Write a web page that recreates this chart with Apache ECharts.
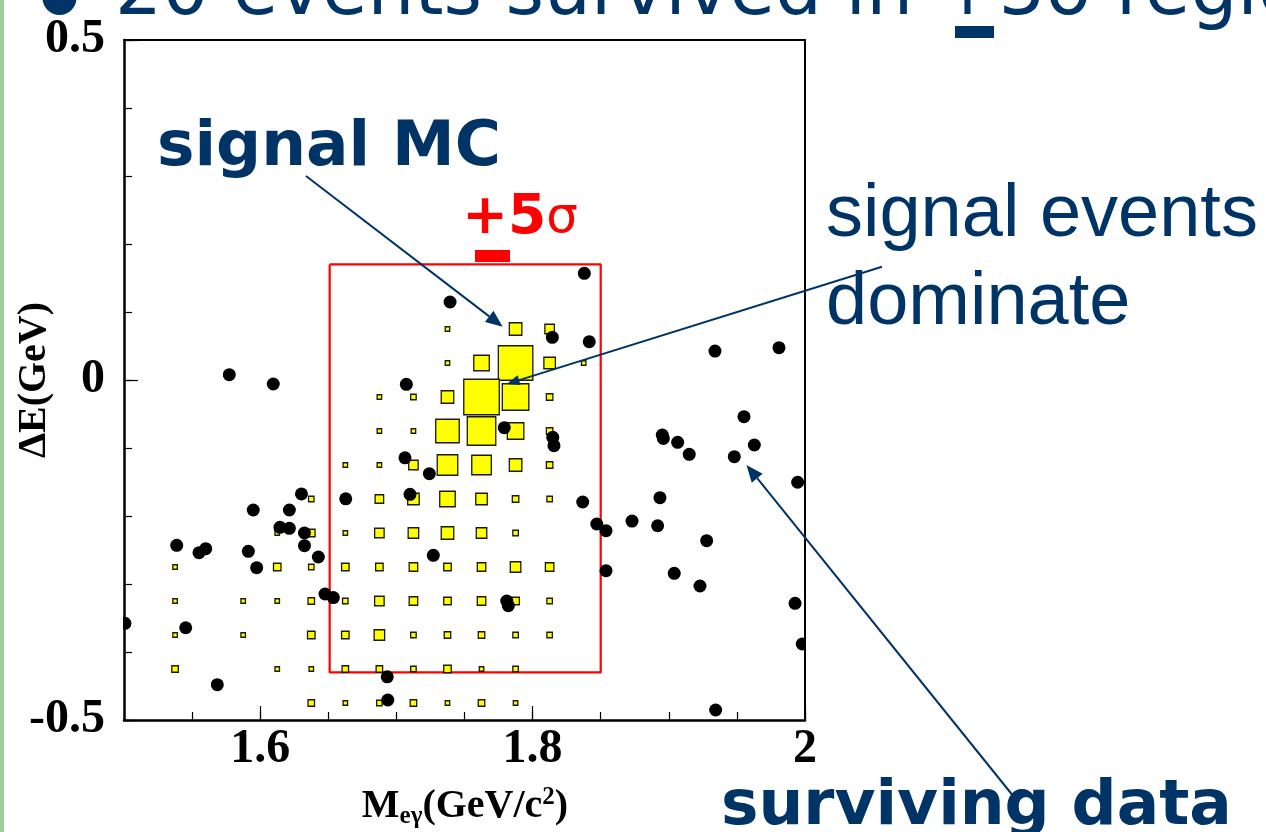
<!DOCTYPE html>
<html>
<head>
<meta charset="utf-8">
<script src="https://cdn.jsdelivr.net/npm/echarts@6/dist/echarts.min.js"></script>
<style>
  html, body { margin: 0; padding: 0; background: #ffffff; }
  #chart { width: 1266px; height: 832px; }
</style>
</head>
<body>
<div id="chart"></div>
<script>
// ---- signal MC: box histogram, bin centres and contents ----
const mcMass = [1.5375, 1.5625, 1.5875, 1.6125, 1.6375, 1.6625, 1.6875, 1.7125, 1.7375, 1.7625, 1.7875, 1.8125, 1.8375];
const mcDeltaE = [0.075, 0.025, -0.025, -0.075, -0.125, -0.175, -0.225, -0.275, -0.325, -0.375, -0.425, -0.475];
// one row per mcDeltaE bin, one column per mcMass bin (0 = empty bin)
const mcContent = [
  [ 0, 0, 0, 0, 0, 0, 0, 0,  9,   0, 33, 24, 0],
  [ 0, 0, 0, 0, 0, 0, 0, 0,  9,  42, 99, 30, 9],
  [ 0, 0, 0, 0, 0, 0, 9, 12, 33, 102, 75, 15, 0],
  [ 0, 0, 0, 0, 0, 0, 9,  9, 66,  81, 45, 15, 0],
  [ 0, 0, 0, 0, 0, 9, 9, 24, 57,  54, 33, 15, 0],
  [ 0, 0, 0, 0, 12, 0, 21, 30, 42, 30, 15, 12, 0],
  [ 0, 0, 0, 9, 18, 9, 24, 27, 33, 27, 12,  0, 0],
  [ 9, 0, 0, 18, 12, 18, 18, 21, 18, 21, 27, 21, 0],
  [ 9, 0, 9, 9, 15, 12, 24, 21, 18, 21, 18, 12, 0],
  [ 9, 0, 9, 0, 18, 18, 27, 12, 15, 15, 12, 12, 0],
  [15, 0, 0, 9,  9, 15, 15, 12, 18,  9, 12,  0, 0],
  [ 0, 0, 0, 0, 15,  9, 12, 15,  9, 15,  9,  0, 0]
];

// ---- surviving data events ----
const dataMass = [
  1.5773, 1.6096, 1.7073, 1.7063, 1.7100, 1.6303, 1.6628, 1.5949, 1.6214, 1.6145,
  1.6214, 1.6325, 1.5387, 1.5551, 1.5600, 1.5913, 1.6325, 1.6427, 1.5974, 1.6476,
  1.6537, 1.5007, 1.5453, 1.5685, 1.6933, 1.6937, 1.7394, 1.8145, 1.8416, 1.7792,
  1.8148, 1.8157, 1.7242, 1.7271, 1.8368, 1.8471, 1.8539, 1.8730, 1.8539, 1.7810,
  1.7822, 1.8380, 1.9339, 1.9809, 1.9552, 1.8952, 1.8960, 1.9065, 1.9150, 1.9628,
  1.9481, 1.9946, 1.8935, 1.8918, 1.9278, 1.9040, 1.9229, 1.9927, 1.9980, 1.9344
];
const dataDeltaE = [
   0.0078, -0.0059, -0.0063, -0.1144, -0.1681, -0.1676, -0.1747, -0.1912, -0.1912, -0.2166,
  -0.2181, -0.2250, -0.2431, -0.2540, -0.2481, -0.2519, -0.2437, -0.2603, -0.2760, -0.3147,
  -0.3199, -0.3578, -0.3643, -0.4481, -0.4365, -0.4706,  0.1147,  0.0628,  0.0563, -0.0701,
  -0.0843, -0.0966, -0.1378, -0.2578, -0.1794, -0.2118, -0.2216, -0.2074, -0.2804, -0.3250,
  -0.3319,  0.1569,  0.0426,  0.0475, -0.0540, -0.0809, -0.0860, -0.0916, -0.1093, -0.0956,
  -0.1128, -0.1504, -0.1731, -0.2143, -0.2363, -0.2843, -0.3029, -0.3284, -0.3882, -0.4853
];

// ---- +-5 sigma signal region ----
const sigmaBoxMass = [1.651, 1.850];
const sigmaBoxDeltaE = [-0.430, 0.170];

// ---- axis ticks and labels ----
const massLabels = [1.6, 1.8, 2.0];
const deltaELabels = [-0.5, 0, 0.5];

const BLUE = '#003366';
const RED = '#ff0000';
const SERIF = "'Liberation Serif', 'DejaVu Serif', serif";
const SANS = "'DejaVu Sans', Verdana, sans-serif";

const mcPoints = [];
mcContent.forEach((row, r) => {
  row.forEach((v, c) => { if (v > 0) mcPoints.push([mcMass[c], mcDeltaE[r], v]); });
});
const dataPoints = dataMass.map((m, i) => [m, dataDeltaE[i]]);
const boxPath = [
  [sigmaBoxMass[0], sigmaBoxDeltaE[1]], [sigmaBoxMass[1], sigmaBoxDeltaE[1]],
  [sigmaBoxMass[1], sigmaBoxDeltaE[0]], [sigmaBoxMass[0], sigmaBoxDeltaE[0]],
  [sigmaBoxMass[0], sigmaBoxDeltaE[1]]
];

// arrow = shaft + filled head
function arrow(x1, y1, x2, y2, headLen, headW) {
  const dx = x2 - x1, dy = y2 - y1, len = Math.hypot(dx, dy);
  const ux = dx / len, uy = dy / len, px = -uy, py = ux;
  const bx = x2 - ux * headLen, by = y2 - uy * headLen;
  return [
    { type: 'line', z: 100, shape: { x1, y1, x2: bx, y2: by },
      style: { stroke: BLUE, lineWidth: 2 } },
    { type: 'polygon', z: 100,
      shape: { points: [[x2, y2], [bx + px * headW / 2, by + py * headW / 2], [bx - px * headW / 2, by - py * headW / 2]] },
      style: { fill: BLUE } }
  ];
}

function txt(x, y, text, size, weight, family, color) {
  return {
    type: 'text', z: 100, x, y,
    style: {
      text, fontSize: size, fontWeight: weight, fontFamily: family, fill: color,
      align: 'left', verticalAlign: 'middle', textAlign: 'left', textVerticalAlign: 'middle'
    }
  };
}

const graphics = [
  // slide edge bar
  { type: 'rect', z: 1, shape: { x: 0, y: 0, width: 4, height: 832 }, style: { fill: '#9fcf9c' } },
  // slide headline (cut by the top edge)
  { type: 'circle', z: 100, shape: { cx: 59.5, cy: -2, r: 17 }, style: { fill: BLUE } },
  txt(115, -5, '20 events survived in +5σ region', 74, 'normal', SANS, BLUE),
  { type: 'rect', z: 100, shape: { x: 955, y: 26, width: 39, height: 12 }, style: { fill: BLUE } },
  // masks that trim markers at the plot frame
  { type: 'rect', z: 5, shape: { x: 106, y: 40, width: 17, height: 680 }, style: { fill: '#ffffff' } },
  { type: 'rect', z: 5, shape: { x: 806, y: 40, width: 16, height: 680 }, style: { fill: '#ffffff' } },
  // annotations
  txt(157, 149, 'signal MC', 63, 'bold', SANS, BLUE),
  {
    type: 'text', z: 100, x: 462, y: 219,
    style: {
      text: '{a|+5}{b|σ}', fill: RED, verticalAlign: 'middle', textVerticalAlign: 'middle',
      rich: {
        a: { fontSize: 55, fontWeight: 'bold', fontFamily: SANS, fill: RED },
        b: { fontSize: 50, fontWeight: 'normal', fontFamily: SANS, fill: RED }
      }
    }
  },
  { type: 'rect', z: 100, shape: { x: 475, y: 250, width: 35, height: 12 }, style: { fill: RED } },
  txt(826, 216, 'signal events', 74, 'normal', "'Liberation Sans', Arial, sans-serif", BLUE),
  txt(826, 304, 'dominate', 74, 'normal', "'Liberation Sans', Arial, sans-serif", BLUE),
  txt(721, 808, 'surviving data', 63, 'bold', SANS, BLUE),
  // axis titles
  {
    type: 'text', z: 100, x: 34.5, y: 380, rotation: Math.PI / 2,
    style: {
      text: 'ΔE(GeV)', fontSize: 40, fontWeight: 'bold', fontFamily: SERIF, fill: '#000',
      align: 'center', verticalAlign: 'middle', textAlign: 'center', textVerticalAlign: 'middle'
    }
  },
  {
    type: 'text', z: 100, x: 465, y: 807,
    style: {
      text: '{m|M}{s|eγ}{m|(GeV/c}{p|2}{m|)}', fill: '#000',
      align: 'center', verticalAlign: 'middle', textAlign: 'center', textVerticalAlign: 'middle',
      rich: {
        m: { fontSize: 40, fontWeight: 'bold', fontFamily: SERIF, lineHeight: 44, fill: '#000' },
        s: { fontSize: 25, fontWeight: 'bold', fontFamily: SERIF, lineHeight: 25, verticalAlign: 'bottom', fill: '#000' },
        p: { fontSize: 25, fontWeight: 'bold', fontFamily: SERIF, lineHeight: 25, verticalAlign: 'top', fill: '#000' }
      }
    }
  }
]
  .concat(arrow(306, 176, 502.7, 326.7, 17, 14))
  .concat(arrow(882, 266.7, 506.7, 384, 13, 10))
  .concat(arrow(1014, 797, 746.5, 465, 17, 14));

const labelFont = { fontSize: 48, fontWeight: 'bold', fontFamily: SERIF, color: '#000' };
const noZero = { onZero: false };

const option = {
  animation: false,
  backgroundColor: '#ffffff',
  grid: { left: 124, top: 40, width: 681, height: 680, containLabel: false, outerBoundsMode: 'none', show: false },
  xAxis: [
    { // main mass axis: line, labelled ticks
      type: 'value', min: 1.5, max: 2.0, position: 'bottom', z: 10,
      axisLine: Object.assign({ show: true, lineStyle: { color: '#000', width: 2.5 } }, noZero),
      axisTick: { show: true, inside: true, length: 14, customValues: massLabels, lineStyle: { color: '#000', width: 1.2 } },
      axisLabel: Object.assign({ show: true, customValues: massLabels, margin: 6,
        formatter: v => (Math.abs(v - 2) < 1e-9 ? '2' : v.toFixed(1)) }, labelFont),
      splitLine: { show: false }
    },
    { // minor mass ticks
      type: 'value', min: 1.5, max: 2.0, interval: 0.05, position: 'bottom', z: 10,
      axisLine: Object.assign({ show: false }, noZero),
      axisTick: { show: true, inside: true, length: 8, lineStyle: { color: '#000', width: 1.2 } },
      axisLabel: { show: false }, splitLine: { show: false }
    },
    { // upper frame
      type: 'value', min: 1.5, max: 2.0, position: 'top', z: 10,
      axisLine: Object.assign({ show: true, lineStyle: { color: '#000', width: 2 } }, noZero),
      axisTick: { show: false }, axisLabel: { show: false }, splitLine: { show: false }
    }
  ],
  yAxis: [
    { // main ΔE axis
      type: 'value', min: -0.5, max: 0.5, position: 'left', z: 10,
      axisLine: Object.assign({ show: true, lineStyle: { color: '#000', width: 2.5 } }, noZero),
      axisTick: { show: true, inside: true, length: 14, customValues: deltaELabels, lineStyle: { color: '#000', width: 1.2 } },
      axisLabel: Object.assign({ show: true, customValues: deltaELabels, margin: 19,
        showMinLabel: true, showMaxLabel: true,
        formatter: v => (v === 0 ? '0' : v.toFixed(1)) }, labelFont),
      splitLine: { show: false }
    },
    { // minor ΔE ticks
      type: 'value', min: -0.5, max: 0.5, interval: 0.1, position: 'left', z: 10,
      axisLine: Object.assign({ show: false }, noZero),
      axisTick: { show: true, inside: true, length: 8, lineStyle: { color: '#000', width: 1.2 } },
      axisLabel: { show: false }, splitLine: { show: false }
    },
    { // right frame
      type: 'value', min: -0.5, max: 0.5, position: 'right', z: 10,
      axisLine: Object.assign({ show: true, lineStyle: { color: '#000', width: 2 } }, noZero),
      axisTick: { show: false }, axisLabel: { show: false }, splitLine: { show: false }
    }
  ],
  series: [
    {
      name: 'sigma region', type: 'line', xAxisIndex: 0, yAxisIndex: 0, z: 1,
      data: boxPath, symbol: 'none', silent: true,
      lineStyle: { color: RED, width: 2.2 }
    },
    {
      name: 'signal MC', type: 'scatter', xAxisIndex: 0, yAxisIndex: 0, z: 2,
      data: mcPoints, symbol: 'rect', silent: true,
      symbolSize: v => v[2] / 3 + 1.5,
      itemStyle: { color: '#ffff00', borderColor: '#1a1a0a', borderWidth: 1.3, opacity: 1 }
    },
    {
      name: 'data', type: 'scatter', xAxisIndex: 0, yAxisIndex: 0, z: 3,
      data: dataPoints, symbol: 'circle', symbolSize: 13, silent: true,
      itemStyle: { color: '#000000', opacity: 1 }
    }
  ],
  graphic: { elements: graphics }
};

const chart = echarts.init(document.getElementById('chart'), null, { renderer: 'canvas' });
chart.setOption(option);
</script>
</body>
</html>
